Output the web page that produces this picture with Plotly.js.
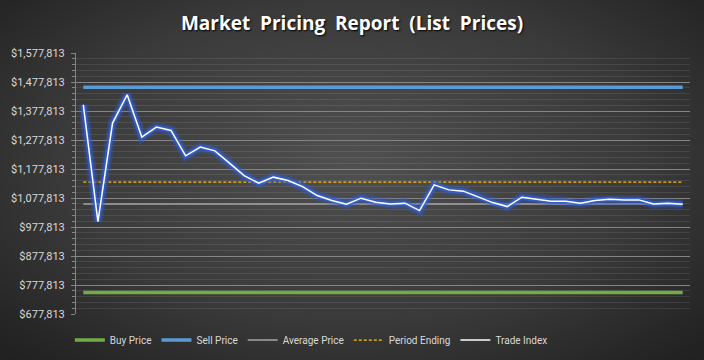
<!DOCTYPE html>
<html>
<head>
<meta charset="utf-8">
<script src="https://cdn.plot.ly/plotly-3.0.1.min.js"></script>
<style>
  html, body { margin: 0; padding: 0; }
  body { width: 704px; height: 360px; overflow: hidden;
    background: radial-gradient(ellipse 75% 80% at 50% 45%, #505050 0%, #3a3a3a 55%, #262626 85%, #1e1e1e 100%); }
  #chart { width: 704px; height: 360px; }
</style>
</head>
<body>
<div id="chart"></div>
<script>
// ---- data ----
const periods = Array.from({length: 42}, (_, i) => i + 1);
const tradeIndex = [
  1399280, 996430, 1336100, 1433800, 1287800, 1322300, 1310600, 1223200, 1253200, 1240500,
  1198000, 1155200, 1129000, 1149700, 1138000, 1117200, 1086200, 1068900, 1056500, 1077200,
  1063400, 1057500, 1060000, 1034400, 1123100, 1105800, 1101400, 1082700, 1062000, 1048200,
  1080600, 1073700, 1066800, 1066800, 1059900, 1068900, 1073700, 1071300, 1071300, 1057500,
  1059900, 1056500
];
const buyPriceValue = 752000;
const sellPriceValue = 1460000;
const averagePriceValue = 1057500;
const periodEndingValue = 1132400;
const yTickStart = 677813;
const yTickEnd = 1577813;

const buyPrice = periods.map(() => buyPriceValue);
const sellPrice = periods.map(() => sellPriceValue);
const averagePrice = periods.map(() => averagePriceValue);
const periodEnding = periods.map(() => periodEndingValue);

const xIdx = periods.map((_, i) => i);

const legendFont = { family: 'Roboto, sans-serif', size: 10, color: '#d9d9d9' };

const traces = [
  { x: xIdx, y: buyPrice, name: 'Buy Price', mode: 'lines',
    line: { color: '#70ad47', width: 3.5 } },
  { x: xIdx, y: sellPrice, name: 'Sell Price', mode: 'lines',
    line: { color: '#5b9bd5', width: 3.5 } },
  { x: xIdx, y: averagePrice, name: 'Average Price', mode: 'lines',
    line: { color: '#a6a6a6', width: 1.5 } },
  { x: xIdx, y: periodEnding, name: 'Period Ending', mode: 'lines',
    line: { color: '#ffc000', width: 1.25, dash: '3px,2px' } },
  // glow layers for trade index
  { x: xIdx, y: tradeIndex, mode: 'lines', showlegend: false, hoverinfo: 'skip',
    line: { color: 'rgba(40,90,215,0.32)', width: 10 } },
  { x: xIdx, y: tradeIndex, mode: 'lines', showlegend: false, hoverinfo: 'skip',
    line: { color: 'rgba(50,100,225,0.65)', width: 5.5 } },
  { x: xIdx, y: tradeIndex, name: 'Trade Index', mode: 'lines',
    line: { color: '#ffffff', width: 1.5 } }
];

const layout = {
  width: 704, height: 360,
  paper_bgcolor: 'rgba(0,0,0,0)',
  plot_bgcolor: 'rgba(0,0,0,0)',
  margin: { l: 76, r: 14, t: 53, b: 46, autoexpand: false },
  title: {
    text: 'Market\u00a0\u00a0Pricing\u00a0\u00a0Report\u00a0\u00a0(List\u00a0\u00a0Prices)',
    x: 0.5, xref: 'container', xanchor: 'center', y: 0.935, yanchor: 'middle',
    font: { family: 'Open Sans, sans-serif', size: 19, color: '#ffffff', weight: 'bold',
            shadow: '1px 1px 2px #000' }
  },
  xaxis: {
    range: [-0.5, 41.5], showgrid: false, zeroline: false,
    showticklabels: false, ticks: '', showline: false, fixedrange: true
  },
  yaxis: {
    range: [yTickStart, yTickEnd],
    tick0: yTickStart, dtick: 100000,
    tickprefix: '$', tickformat: ',d',
    showgrid: true, gridcolor: '#858585', gridwidth: 1,
    zeroline: false,
    showline: true, linecolor: '#858585', linewidth: 1,
    ticks: 'outside', ticklen: 4, tickcolor: '#858585',
    ticklabelstandoff: 4,
    tickfont: { family: 'Roboto, sans-serif', size: 11, color: '#d9d9d9' },
    minor: { dtick: 20000, tick0: yTickStart, showgrid: true, gridcolor: 'rgba(255,255,255,0.09)',
             gridwidth: 1, ticks: 'outside', ticklen: 3, tickcolor: '#858585' }
  },
  showlegend: true,
  legend: {
    orientation: 'h', x: -0.01, xanchor: 'left', y: -0.1, yanchor: 'middle',
    font: legendFont,
    bgcolor: 'rgba(0,0,0,0)', itemwidth: 30, traceorder: 'normal'
  }
};

Plotly.newPlot('chart', traces, layout, { displayModeBar: false, staticPlot: true });
</script>
</body>
</html>
